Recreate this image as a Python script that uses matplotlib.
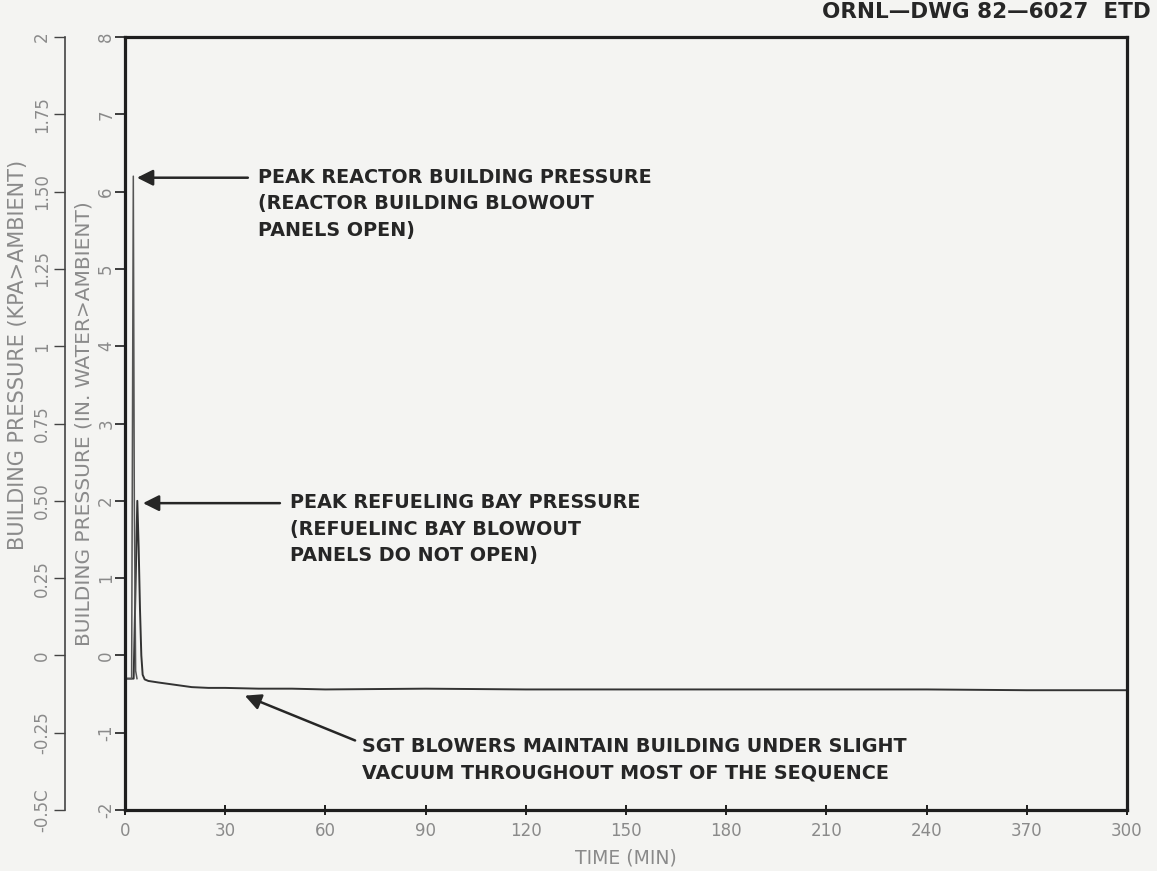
"""
Building pressure transient chart.

Reactor building and refueling bay pressure against time, with the
kPa scale drawn as a second axis to the left of the inches-of-water axis.
"""

import matplotlib.pyplot as plt

# =====================================================
# DATA
# =====================================================

# Reactor building spike (in. water above ambient)
reactor_time = [0.0, 2.0, 2.5, 2.8, 3.2, 3.6]
reactor_pressure = [-0.30, -0.30, 6.20, 2.00, -0.20, -0.30]

# Refueling bay history (in. water above ambient)
refuel_time = [0.0, 2.6, 3.7, 4.1, 4.5, 4.9, 5.3, 5.9, 7, 10, 15, 20, 25, 30,
               40, 50, 60, 90, 120, 150, 180, 210, 240, 270, 300]
refuel_pressure = [-0.30, -0.30, 2.00, 1.40, 0.60, 0.00, -0.25, -0.31, -0.33,
                   -0.35, -0.38, -0.41, -0.42, -0.42, -0.43, -0.43, -0.44,
                   -0.43, -0.44, -0.44, -0.44, -0.44, -0.44, -0.45, -0.45]

x_ticks = [0, 30, 60, 90, 120, 150, 180, 210, 240, 270, 300]
x_tick_labels = ["0", "30", "60", "90", "120", "150", "180", "210", "240",
                 "370", "300"]
inch_ticks = [-2, -1, 0, 1, 2, 3, 4, 5, 6, 7, 8]
kpa_ticks = [-0.5, -0.25, 0, 0.25, 0.5, 0.75, 1, 1.25, 1.5, 1.75, 2]
kpa_tick_labels = ["-0.5C", "-0.25", "0", "0.25", "0.50", "0.75", "1",
                   "1.25", "1.50", "1.75", "2"]

KPA_PER_INCH = 0.25

reactor_note = ("PEAK REACTOR BUILDING PRESSURE\n"
                "(REACTOR BUILDING BLOWOUT\n"
                "PANELS OPEN)")
refuel_note = ("PEAK REFUELING BAY PRESSURE\n"
               "(REFUELINC BAY BLOWOUT\n"
               "PANELS DO NOT OPEN)")
vacuum_note = ("SGT BLOWERS MAINTAIN BUILDING UNDER SLIGHT\n"
               "VACUUM THROUGHOUT MOST OF THE SEQUENCE")

# =====================================================
# STYLE
# =====================================================

PAPER = "#f4f4f2"
INK = "#1e1e1e"
PEN = "#8a8a8a"

plt.rcParams["font.family"] = ["DejaVu Sans"]

figure = plt.figure(figsize=(11.57, 8.71), dpi=100, facecolor=PAPER)

ax = figure.add_axes([0.108, 0.070, 0.866, 0.8875], facecolor=PAPER)

# =====================================================
# CURVES
# =====================================================

ax.plot(refuel_time, refuel_pressure, color="#333333", linewidth=1.4)
ax.plot(reactor_time, reactor_pressure, color="#555555", linewidth=1.1)

ax.set_xlim(0, 300)
ax.set_ylim(-2, 8)

for spine in ax.spines.values():
    spine.set_linewidth(2.3)
    spine.set_color(INK)

ax.set_xticks(x_ticks)
ax.set_xticklabels(x_tick_labels)
ax.set_yticks(inch_ticks)
ax.set_yticklabels([str(t) for t in inch_ticks], rotation=90, va="center")

ax.tick_params(axis="x", direction="inout", length=7, width=1.4,
               color=INK, labelcolor=PEN, labelsize=12, pad=5)
ax.tick_params(axis="y", direction="out", length=7, width=1.2,
               color=INK, labelcolor=PEN, labelsize=12, pad=0)

ax.set_xlabel("TIME (MIN)", color=PEN, fontsize=13.5, labelpad=6)
ax.set_ylabel("BUILDING PRESSURE (IN. WATER>AMBIENT)", color=PEN,
              fontsize=14.5, labelpad=3)

# =====================================================
# KPA AXIS
# =====================================================

kpa = ax.secondary_yaxis(
    -0.06,
    functions=(lambda v: v * KPA_PER_INCH, lambda v: v / KPA_PER_INCH),
)
kpa.spines["left"].set_linewidth(1.2)
kpa.spines["left"].set_color("#444444")
kpa.set_yticks(kpa_ticks)
kpa.set_yticklabels(kpa_tick_labels, rotation=90, va="center")
kpa.tick_params(direction="out", length=8, width=1.0, color="#444444",
                labelcolor=PEN, labelsize=12, pad=2)

figure.text(18 / 1157, 1 - 355 / 871, "BUILDING PRESSURE (KPA>AMBIENT)",
            rotation=90, ha="center", va="center", color=PEN, fontsize=15)

# =====================================================
# ANNOTATIONS
# =====================================================

note_style = dict(fontsize=13.8, fontweight="bold", color="#262626",
                  linespacing=1.5, ha="left", va="top")
arrow_style = dict(arrowstyle="-|>", color="#262626", lw=1.8,
                   mutation_scale=24, shrinkA=0, shrinkB=0)

ax.text(39.8, 6.31, reactor_note, **note_style)
ax.annotate("", xy=(3.6, 6.18), xytext=(36.8, 6.18),
            arrowprops=arrow_style)

ax.text(49.4, 2.10, refuel_note, **note_style)
ax.annotate("", xy=(5.4, 1.97), xytext=(46.4, 1.97),
            arrowprops=arrow_style)

ax.text(71.0, -1.06, vacuum_note, **note_style)
ax.annotate("", xy=(35.9, -0.52), xytext=(68.9, -1.10),
            arrowprops=arrow_style)

figure.text(0.995, 0.998, "ORNL\u2014DWG 82\u20146027  ETD",
            ha="right", va="top", fontsize=15.5, fontweight="bold",
            color="#262626")

figure.savefig("out.png", dpi=100, facecolor=PAPER)
plt.close(figure)
